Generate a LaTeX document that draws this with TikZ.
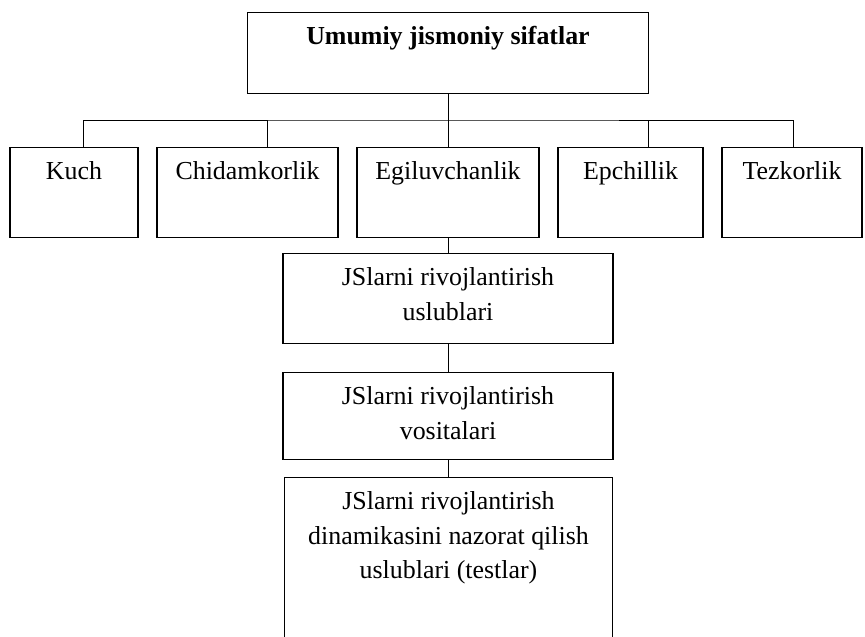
\documentclass[tikz,border=0pt]{standalone}
\usepackage{fontspec}
\setmainfont{Liberation Serif}
\usetikzlibrary{positioning,calc}

\begin{document}
\begin{tikzpicture}[
  x=1bp,y=-1bp,
  every node/.style={font=\fontsize{26}{34.5}\selectfont,align=center,inner sep=5bp,text height=27bp},
  box/.style={draw,line width=1.2bp,anchor=north},
  row/.style={box,text depth=53bp},
  link/.style={draw,line width=0.9bp}
]
\useasboundingbox (0,0) rectangle (865,637);
% top level
\node[box,text depth=44bp,minimum width=401bp] (top) at (448,12) {\textbf{Umumiy jismoniy sifatlar}};
% second level
\node[row,minimum width=128bp] (kuch) at (74,147) {Kuch};
\node[row,minimum width=181bp] (chid) at (247.5,147) {Chidamkorlik};
\node[row,minimum width=182bp] (egil) at (448,147) {Egiluvchanlik};
\node[row,minimum width=145bp] (epch) at (630.5,147) {Epchillik};
\node[row,minimum width=140bp] (tez) at (792,147) {Tezkorlik};
% chain below
\node[box,minimum width=330bp,text height=61.5bp,text depth=18.5bp] (usl) at (448,253) {JSlarni rivojlantirish\\uslublari};
\node[box,minimum width=330bp,text height=61.5bp,text depth=15.5bp] (vos) at (448,372) {JSlarni rivojlantirish\\vositalari};
\node[box,minimum width=328bp,text height=96bp,text depth=62bp] (test) at (448.5,477) {JSlarni rivojlantirish\\dinamikasini nazorat qilish\\uslublari (testlar)};
% connectors
\coordinate (bus) at (448,120);
\draw[link] (top.south) -- (bus);
\draw[link] ([xshift=9bp]kuch.north) |- (bus) -| ([xshift=1bp]tez.north);
\draw[link] ([xshift=19.5bp]chid.north) -- ([xshift=19.5bp]chid.north |- bus);
\draw[link] (bus) -- (bus |- egil.north);
\draw[link] ([xshift=17.5bp]epch.north) -- ([xshift=17.5bp]epch.north |- bus);
\draw[link] (egil.south) -- (usl.north);
\draw[link] (usl.south) -- (vos.north);
\draw[link] (vos.south) -- (vos.south |- test.north);
\end{tikzpicture}
\end{document}
